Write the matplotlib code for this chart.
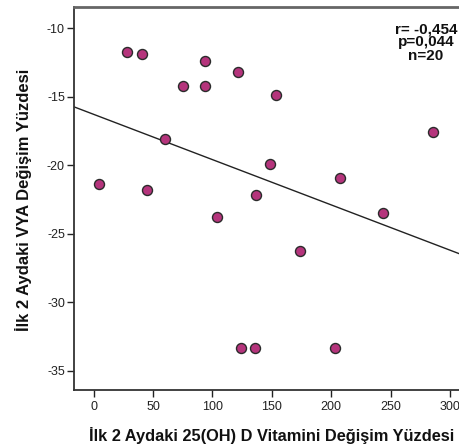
import numpy as np
import matplotlib
matplotlib.use("Agg")
import matplotlib.pyplot as plt

plt.rcParams['font.family'] = ['Liberation Sans', 'DejaVu Sans']

vitd_change = [28.1, 40.7, 94.1, 74.8, 94.1, 60.0, 4.8, 44.9, 104.2, 121.6,
               153.5, 286.0, 148.5, 136.7, 207.3, 243.4, 173.7, 123.9, 136.1, 202.9]
vya_change = [-11.7, -11.85, -12.4, -14.2, -14.2, -18.1, -21.35, -21.8, -23.75, -13.2,
              -14.9, -17.55, -19.9, -22.15, -20.95, -23.45, -26.25, -33.3, -33.3, -33.3]
x_ticks = [0, 50, 100, 150, 200, 250, 300]
y_ticks = [-10, -15, -20, -25, -30, -35]
stats_text = "r= -0,454\np=0,044\nn=20"
xlabel = "İlk 2 Aydaki 25(OH) D Vitamini Değişim Yüzdesi"
ylabel = "İlk 2 Aydaki VYA Değişim Yüzdesi"

fig = plt.figure(figsize=(4.59, 4.48), dpi=100)
W, H = 459, 448
left, right, top, bottom = 74, 459, 7, 390
ax = fig.add_axes([left / W, 1 - bottom / H, (right - left) / W, (bottom - top) / H])

xmin, xmax = -16.6, 307.6
ymin, ymax = -36.4, -8.45
ax.set_xlim(xmin, xmax)
ax.set_ylim(ymin, ymax)

ax.scatter(vitd_change, vya_change, s=52, c='#B5347C', edgecolors='#2b2b2b',
           linewidths=1.0, zorder=3)

slope, intercept = np.polyfit(vitd_change, vya_change, 1)
xs = np.array([xmin, xmax])
ax.plot(xs, slope * xs + intercept, color='#222222', lw=1.0, zorder=2)

ax.set_xticks(x_ticks)
ax.set_yticks(y_ticks)
ax.set_xticklabels([str(t) for t in x_ticks])
ax.set_yticklabels([str(t) for t in y_ticks])
ax.tick_params(labelsize=9, length=5, width=1.0, color='#222222', labelcolor='#222222', pad=1.5)
ax.tick_params(axis='x', pad=3)

for s in ['left', 'bottom', 'top']:
    ax.spines[s].set_linewidth(1.3)
    ax.spines[s].set_color('#333333')
ax.spines['top'].set_color('#666666')
ax.spines['top'].set_linewidth(2.0)
ax.spines['right'].set_visible(False)

fig.text(271.5 / W, 1 - 435 / H, xlabel, ha='center', va='center', fontsize=11.8,
         fontweight='bold', color='#111111')
fig.text(24 / W, 1 - 200 / H, ylabel, ha='center', va='center', rotation=90,
         fontsize=12, fontweight='bold', color='#111111')

fig.text(426 / W, 1 - 22 / H, stats_text, ha='center', va='top', fontsize=11,
         fontweight='bold', linespacing=0.95, color='#111111')

fig.savefig('out.png', dpi=100)
